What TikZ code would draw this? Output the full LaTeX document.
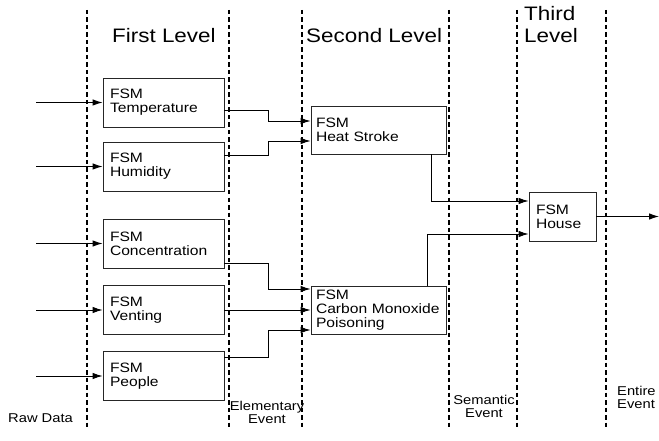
\documentclass[tikz,border=0pt]{standalone}
\usepackage{fontspec}
\setmainfont[FakeStretch=1.15]{Liberation Sans}
\usetikzlibrary{arrows.meta}

\begin{document}
\begin{tikzpicture}[x=1pt,y=-1pt,
  fsmbox/.style={draw=black!85,line width=0.9pt,align=left,inner xsep=7pt,inner ysep=0pt,
    minimum height=49pt,font=\fontsize{13.6}{13.8}\selectfont},
  levelname/.style={font=\fontsize{19.5}{21}\selectfont,inner sep=0pt,anchor=base west,align=left},
  eventname/.style={font=\fontsize{12.8}{12.8}\selectfont,inner sep=0pt,align=center},
  sep/.style={dashed,dash pattern=on 4.5pt off 3pt,line width=1.1pt},
  arr/.style={line width=0.9pt,-{Latex[length=10pt,width=6.5pt]}}]

\useasboundingbox (0,0) rectangle (659,441);

% dashed separators
\foreach \xx in {87,229,302,449,517,606}
  \draw[sep] (\xx,10) -- (\xx,427);

% level titles
\node[levelname] (first) at (112,43) {First Level};
\node[levelname] (second) at (306,43) {Second Level};
\node[levelname,text depth=0pt] (third) at (524,43) {Third\\[1.3pt]Level};

% event titles
\node[eventname,anchor=base west] (raw) at (8,422) {Raw Data};
\node[eventname,anchor=base] (elem) at (267,423) {Elementary\\Event};
\node[eventname,anchor=base] (sem) at (484,417) {Semantic\\Event};
\node[eventname,anchor=base west,align=left] (entire) at (617,408) {Entire\\Event};

% first level
\node[fsmbox,text width=107pt] (temp) at (163.5,102.5) {FSM\\Temperature};
\node[fsmbox,text width=107pt] (humid) at (163.5,166.5) {FSM\\Humidity};
\node[fsmbox,text width=107pt] (conc) at (163.5,243.5) {FSM\\Concentration};
\node[fsmbox,text width=107pt] (vent) at (163.5,310) {FSM\\Venting};
\node[fsmbox,text width=107pt] (people) at (163.5,376) {FSM\\People};

% second level
\node[fsmbox,inner xsep=5pt,text width=125pt,minimum height=48pt] (heat) at (378.5,130) {FSM\\Heat Stroke};
\node[fsmbox,inner xsep=5pt,text width=125pt,minimum height=48pt] (co) at (378.5,310) {FSM\\Carbon Monoxide\\Poisoning};

% third level
\node[fsmbox,text width=53pt] (house) at (562.5,216.5) {FSM\\House};

% raw data inputs
\coordinate (in1) at (36,102.5);
\coordinate (in2) at (36,166.5);
\coordinate (in3) at (36,243.5);
\coordinate (in4) at (36,310);
\coordinate (in5) at (36,376);
\coordinate (out) at (659,216.5);

\draw[arr] (in1) -- (temp.west);
\draw[arr] (in2) -- (humid.west);
\draw[arr] (in3) -- (conc.west);
\draw[arr] (in4) -- (vent.west);
\draw[arr] (in5) -- (people.west);

% elementary events
\draw[arr] ([yshift=-7.5pt]temp.east) -- ++(44,0) |- ([yshift=9pt]heat.west);
\draw[arr] ([yshift=11.5pt]humid.east) -- ++(44,0) |- ([yshift=-11pt]heat.west);
\draw[arr] ([yshift=-19.5pt]conc.east) -- ++(44,0) |- ([yshift=21pt]co.west);
\draw[arr] (vent.east) -- (co.west);
\draw[arr] ([yshift=19pt]people.east) -- ++(44,0) |- ([yshift=-20pt]co.west);

% semantic events
\draw[arr] ([xshift=-15pt]heat.south east) |- ([yshift=15.5pt]house.west);
\draw[arr] ([xshift=-19pt]co.north east) |- ([yshift=-17.5pt]house.west);

% entire event
\draw[arr] (house.east) -- (out);

\end{tikzpicture}
\end{document}
